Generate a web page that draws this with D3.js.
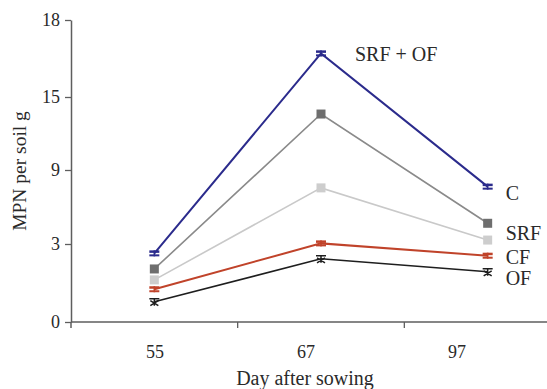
<!DOCTYPE html>
<html>
<head>
<meta charset="utf-8">
<script src="https://cdn.jsdelivr.net/npm/d3@7"></script>
<style>
  body { margin: 0; background: #fff; }
  text { font-family: "Liberation Serif", "Times New Roman", serif; fill: #2a2a2a; }
</style>
</head>
<body>
<svg width="547" height="389"></svg>
<script>
// data
var days = ["55", "67", "97"];
var yTicks = [0, 3, 9, 15, 18];
var seriesNames = ["SRF + OF", "C", "SRF", "CF", "OF"];
var srfOf = [2.64, 16.7, 7.65];
var ctrl  = [2.04, 13.6, 4.68];
var srf   = [1.62, 7.55, 3.32];
var cf    = [1.26, 3.05, 2.55];
var of    = [0.78, 2.43, 1.93];

var series = [
  {name: seriesNames[0], values: srfOf, color: "#2b2b8c", mcolor: "#2b2b8c", marker: "bar",    width: 2},
  {name: seriesNames[1], values: ctrl,  color: "#8a8a8a", mcolor: "#6e6e6e", marker: "square", width: 1.6},
  {name: seriesNames[2], values: srf,   color: "#c9c9c9", mcolor: "#cdcdcd", marker: "square", width: 1.6},
  {name: seriesNames[3], values: cf,    color: "#c0432a", mcolor: "#c0432a", marker: "bar",    width: 2},
  {name: seriesNames[4], values: of,    color: "#1e1e1e", mcolor: "#1e1e1e", marker: "star",   width: 1.6}
];

// label placement: which point and offset
var labelPos = [
  {i: 1, dx: 34, dy: 1},
  {i: 2, dx: 18, dy: -30},
  {i: 2, dx: 18, dy: -7},
  {i: 2, dx: 18, dy: 1},
  {i: 2, dx: 18, dy: 6}
];

var svg = d3.select("svg");

var x = d3.scaleBand().domain(days).range([71, 571]);
var xLab = d3.scalePoint().domain(days).range([155, 457]);
// the axis ticks are evenly spaced but labelled 0,3,9,15,18
var y = d3.scaleLinear().domain(yTicks).range([322, 244, 170, 97, 20]);

function cx(i) { return x(days[i]) + x.bandwidth() / 2; }

// y axis
var yAxis = svg.append("g")
    .attr("transform", "translate(71,0)")
    .call(d3.axisLeft(y).tickValues(yTicks).tickSize(6).tickSizeOuter(0).tickPadding(5));
yAxis.select(".domain").attr("stroke", "#5e5e5e").attr("stroke-width", 1.5);
yAxis.selectAll(".tick line").attr("stroke", "#5e5e5e").attr("stroke-width", 1.3);
yAxis.selectAll(".tick text").style("font-size", "18px").attr("fill", "#2a2a2a")
    .style("font-family", "Liberation Serif, serif");
svg.append("line")
    .attr("x1", 71).attr("x2", 71).attr("y1", y(0)).attr("y2", y(0) + 6)
    .attr("stroke", "#5e5e5e").attr("stroke-width", 1.5);

// x axis
svg.append("line")
    .attr("x1", 71).attr("x2", 547).attr("y1", y(0)).attr("y2", y(0))
    .attr("stroke", "#5e5e5e").attr("stroke-width", 1.5);
svg.selectAll(".xtick")
  .data(days.slice(1))
  .enter().append("line")
    .attr("x1", function(d) { return x(d); })
    .attr("x2", function(d) { return x(d); })
    .attr("y1", y(0)).attr("y2", y(0) + 6)
    .attr("stroke", "#5e5e5e").attr("stroke-width", 1.3);
svg.selectAll(".xlab")
  .data(days)
  .enter().append("text")
    .attr("x", function(d) { return xLab(d); })
    .attr("y", y(0) + 36)
    .attr("text-anchor", "middle")
    .style("font-size", "18px")
    .text(function(d) { return d; });

svg.append("text")
    .attr("x", 305).attr("y", 385)
    .attr("text-anchor", "middle")
    .style("font-size", "20px")
    .text("Day after sowing");

svg.append("text")
    .attr("transform", "translate(26,171) rotate(-90)")
    .attr("text-anchor", "middle")
    .style("font-size", "19.5px")
    .text("MPN per soil g");

// lines
var line = d3.line()
    .x(function(d, i) { return cx(i); })
    .y(function(d) { return y(d); });

var g = svg.selectAll(".series")
  .data(series)
  .enter().append("g")
    .attr("class", "series");

g.append("path")
    .attr("d", function(d) { return line(d.values); })
    .attr("fill", "none")
    .attr("stroke", function(d) { return d.color; })
    .attr("stroke-width", function(d) { return d.width; });

// markers
g.each(function(s) {
  var m = d3.select(this).selectAll(".mk")
    .data(s.values)
    .enter().append("g")
      .attr("transform", function(d, i) { return "translate(" + cx(i) + "," + y(d) + ")"; });
  if (s.marker === "square") {
    m.append("rect")
      .attr("x", -4.5).attr("y", -4.5).attr("width", 9).attr("height", 9)
      .attr("fill", s.mcolor);
  } else if (s.marker === "bar") {
    m.append("rect").attr("x", -5).attr("y", -3).attr("width", 10).attr("height", 2.5).attr("fill", s.mcolor);
    m.append("rect").attr("x", -5).attr("y", 1).attr("width", 10).attr("height", 2).attr("fill", s.mcolor);
    m.append("rect").attr("x", -0.8).attr("y", -3).attr("width", 1.6).attr("height", 6).attr("fill", s.mcolor);
  } else {
    m.append("path")
      .attr("d", "M-5,-3H5M0,-3V4M-4,4L4,-1M4,4L-4,-1")
      .attr("stroke", s.mcolor).attr("stroke-width", 1.5).attr("fill", "none");
  }
});

// series labels
g.append("text")
    .attr("x", function(d, k) { return cx(labelPos[k].i) + labelPos[k].dx; })
    .attr("y", function(d, k) { return y(d.values[labelPos[k].i]) + labelPos[k].dy; })
    .attr("dy", "0.35em")
    .style("font-size", "20px")
    .text(function(d) { return d.name; });
</script>
</body>
</html>
